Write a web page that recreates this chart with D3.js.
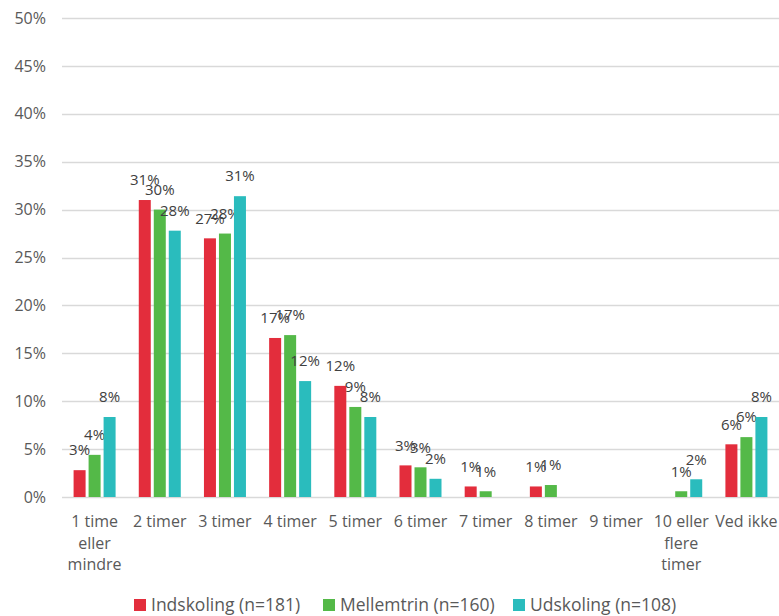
<!DOCTYPE html>
<html><head><meta charset="utf-8">
<script src="https://cdn.jsdelivr.net/npm/d3@7"></script>
<style>body{margin:0;background:#fff;} svg{display:block;font-family:"Open Sans","Noto Sans",sans-serif;}</style>
</head><body>
<svg id="c" width="779" height="616"></svg>
<script>
const categories = [["1 time","eller","mindre"],["2 timer"],["3 timer"],["4 timer"],["5 timer"],["6 timer"],["7 timer"],["8 timer"],["9 timer"],["10 eller","flere","timer"],["Ved ikke"]];
const seriesNames = ["Indskoling (n=181)","Mellemtrin (n=160)","Udskoling (n=108)"];
const indskoling = [2.8,31.0,27.0,16.6,11.6,3.3,1.1,1.1,null,null,5.5];
const mellemtrin = [4.4,30.0,27.5,16.9,9.4,3.1,0.6,1.25,null,0.6,6.25];
const udskoling  = [8.35,27.8,31.4,12.1,8.35,1.9,null,null,null,1.85,8.35];
const colors = ["#e32d3c","#54b948","#2abcbd"];
const yTicks = [0,5,10,15,20,25,30,35,40,45,50];

const svg = d3.select("#c");
const pL = 62, pR = 779, pT = 18, pB = 497;
const x = d3.scaleBand().domain(d3.range(categories.length)).range([pL,pR]).paddingInner(0).paddingOuter(0);
const y = d3.scaleLinear().domain([0,50]).range([pB,pT]);
const series = [indskoling, mellemtrin, udskoling];
const barW = 12, stride = 15;

svg.append("g").selectAll("line").data(yTicks).join("line")
  .attr("x1",pL).attr("x2",pR).attr("y1",d=>Math.round(y(d))+0.5).attr("y2",d=>Math.round(y(d))+0.5)
  .attr("stroke","#d9d9d9").attr("stroke-width",1.3);

svg.append("g").selectAll("text").data(yTicks).join("text")
  .attr("x",46).attr("y",d=>y(d)).attr("dy","0.35em").attr("text-anchor","end")
  .attr("font-size",16).attr("fill","#595959").text(d=>d+"%");

series.forEach((vals,si)=>{
  const g = svg.append("g");
  const data = vals.map((v,i)=>({v,i})).filter(d=>d.v!==null);
  const cx = d => x(d.i) + x.bandwidth()/2 + (si-1)*stride;
  g.selectAll("rect").data(data).join("rect")
    .attr("x",d=>cx(d)-barW/2).attr("width",barW)
    .attr("y",d=>y(d.v)).attr("height",d=>y(0)-y(d.v))
    .attr("fill",colors[si]);
  g.selectAll("text").data(data).join("text")
    .attr("x",d=>cx(d)).attr("y",d=>y(d.v)-20).attr("dy","0.35em").attr("text-anchor","middle")
    .attr("font-size",15).attr("fill","#404040").text(d=>Math.round(d.v)+"%");
});

const cl = svg.append("g");
categories.forEach((lines,i)=>{
  const t = cl.append("text").attr("text-anchor","middle").attr("font-size",16).attr("fill","#595959");
  lines.forEach((ln,k)=>{
    t.append("tspan").attr("x",x(i)+x.bandwidth()/2).attr("y",527+k*21.5).text(ln);
  });
});

const legX = [134,323,513];
seriesNames.forEach((n,i)=>{
  svg.append("rect").attr("x",legX[i]).attr("y",599).attr("width",12).attr("height",12).attr("fill",colors[i]);
  svg.append("text").attr("x",legX[i]+17).attr("y",605).attr("dy","0.35em").attr("font-size",17.5).attr("fill","#595959").text(n);
});
</script>
</body></html>
